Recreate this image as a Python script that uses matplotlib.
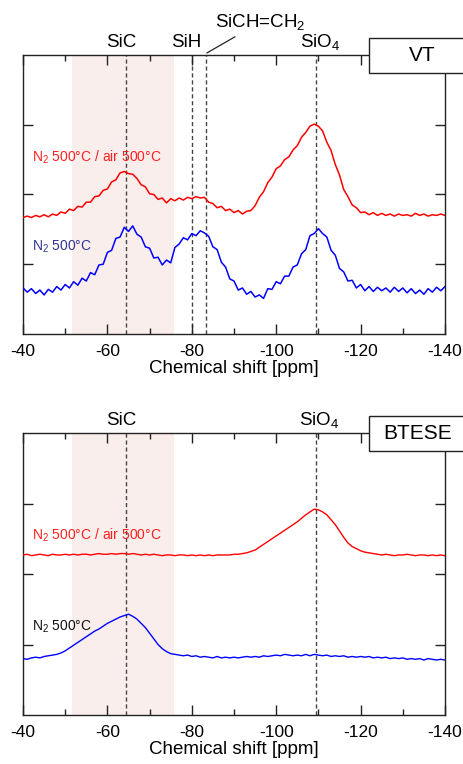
import numpy as np
import matplotlib
matplotlib.use("Agg")
import matplotlib.pyplot as plt
from matplotlib.patches import Rectangle

plt.rcParams['font.family'] = ['Liberation Sans', 'DejaVu Sans']
plt.rcParams['mathtext.fontset'] = 'custom'
plt.rcParams['mathtext.rm'] = 'Liberation Sans'
plt.rcParams['mathtext.it'] = 'Liberation Sans'

# chemical shift grid, -40 ... -140 ppm
shift = np.arange(-40, -141, -1)

vt_air = [1.67, 1.69, 1.67, 1.70, 1.68, 1.71, 1.68, 1.72, 1.70, 1.75,
          1.73, 1.79, 1.77, 1.83, 1.82, 1.89, 1.89, 1.97, 1.98, 2.06,
          2.08, 2.18, 2.21, 2.31, 2.33, 2.30, 2.29, 2.23, 2.14, 2.11,
          2.01, 2.00, 1.93, 1.95, 1.88, 1.94, 1.91, 1.95, 1.92, 1.96,
          1.94, 1.97, 1.95, 1.96, 1.89, 1.87, 1.81, 1.83, 1.77, 1.79,
          1.74, 1.77, 1.72, 1.76, 1.77, 1.84, 1.96, 2.04, 2.17, 2.25,
          2.37, 2.41, 2.50, 2.54, 2.64, 2.70, 2.82, 2.89, 2.98, 3.01,
          2.98, 2.91, 2.75, 2.63, 2.43, 2.28, 2.07, 1.97, 1.85, 1.81,
          1.74, 1.75, 1.71, 1.74, 1.70, 1.73, 1.70, 1.72, 1.69, 1.72,
          1.70, 1.71, 1.69, 1.73, 1.70, 1.72, 1.69, 1.71, 1.70, 1.72,
          1.70]

vt_n2 = [0.66, 0.60, 0.65, 0.58, 0.63, 0.56, 0.64, 0.60, 0.68, 0.63,
         0.71, 0.66, 0.75, 0.70, 0.80, 0.76, 0.88, 0.85, 0.99, 1.00,
         1.17, 1.20, 1.37, 1.39, 1.53, 1.47, 1.55, 1.43, 1.39, 1.25,
         1.23, 1.09, 1.10, 0.99, 1.06, 1.02, 1.24, 1.29, 1.38, 1.35,
         1.44, 1.41, 1.48, 1.45, 1.40, 1.25, 1.21, 1.03, 0.96, 0.79,
         0.76, 0.63, 0.66, 0.57, 0.61, 0.53, 0.56, 0.51, 0.65, 0.64,
         0.75, 0.72, 0.83, 0.83, 0.96, 0.99, 1.15, 1.21, 1.41, 1.44,
         1.51, 1.44, 1.39, 1.20, 1.13, 0.94, 0.89, 0.76, 0.77, 0.66,
         0.71, 0.62, 0.68, 0.61, 0.67, 0.62, 0.66, 0.60, 0.67, 0.61,
         0.66, 0.59, 0.65, 0.58, 0.63, 0.57, 0.65, 0.60, 0.67, 0.62,
         0.68]

btese_air = [2.27, 2.28, 2.26, 2.27, 2.28, 2.27, 2.26, 2.28, 2.27, 2.27,
             2.28, 2.27, 2.28, 2.27, 2.28, 2.28, 2.27, 2.28, 2.29, 2.28,
             2.28, 2.29, 2.28, 2.29, 2.29, 2.28, 2.29, 2.28, 2.27, 2.28,
             2.27, 2.28, 2.27, 2.26, 2.27, 2.27, 2.26, 2.27, 2.27, 2.26,
             2.27, 2.26, 2.27, 2.26, 2.27, 2.26, 2.27, 2.27, 2.27, 2.27,
             2.28, 2.28, 2.29, 2.30, 2.32, 2.34, 2.38, 2.42, 2.46, 2.50,
             2.54, 2.58, 2.62, 2.66, 2.70, 2.74, 2.79, 2.84, 2.88, 2.92,
             2.91, 2.88, 2.84, 2.77, 2.70, 2.61, 2.52, 2.44, 2.39, 2.36,
             2.33, 2.31, 2.30, 2.29, 2.28, 2.27, 2.28, 2.27, 2.26, 2.27,
             2.27, 2.28, 2.27, 2.26, 2.27, 2.27, 2.26, 2.27, 2.26, 2.27,
             2.26]

btese_n2 = [0.80, 0.79, 0.81, 0.82, 0.81, 0.83, 0.84, 0.85, 0.86, 0.88,
            0.91, 0.95, 0.99, 1.03, 1.07, 1.11, 1.15, 1.19, 1.22, 1.26,
            1.30, 1.33, 1.36, 1.39, 1.41, 1.43, 1.40, 1.36, 1.30, 1.24,
            1.16, 1.08, 1.00, 0.94, 0.90, 0.87, 0.86, 0.85, 0.84, 0.85,
            0.83, 0.84, 0.82, 0.83, 0.82, 0.81, 0.83, 0.81, 0.82, 0.81,
            0.82, 0.81, 0.82, 0.83, 0.82, 0.83, 0.82, 0.84, 0.83, 0.84,
            0.85, 0.84, 0.86, 0.85, 0.84, 0.85, 0.84, 0.86, 0.84, 0.86,
            0.85, 0.84, 0.85, 0.83, 0.84, 0.83, 0.84, 0.82, 0.83, 0.82,
            0.83, 0.82, 0.83, 0.81, 0.82, 0.81, 0.82, 0.80, 0.81, 0.80,
            0.81, 0.79, 0.80, 0.79, 0.80, 0.78, 0.80, 0.79, 0.78, 0.79,
            0.78]

sic_band = (-51.5, -75.8)
vt_peaks = {'SiC': -64.5, 'SiH': -80.0, 'SiCH=CH2': -83.4, 'SiO4': -109.4}
btese_peaks = {'SiC': -64.5, 'SiO4': -109.4}

fig = plt.figure(figsize=(4.64, 7.64), dpi=100)
ax1 = fig.add_axes([23/464, 1-334/764, 422/464, 279/764])
ax2 = fig.add_axes([23/464, 1-715/764, 422/464, 282/764])


def style(ax):
    ax.set_xlim(-40, -140)
    ax.set_ylim(0, 4)
    ax.set_xticks(np.arange(-40, -141, -20))
    ax.set_xticks(np.arange(-50, -141, -20), minor=True)
    ax.set_yticks([1, 2, 3])
    ax.set_yticklabels([])
    ax.tick_params(which='both', direction='in', top=True, right=True,
                   color='#222222', width=1)
    ax.tick_params(which='major', length=7, labelsize=12.5, pad=7)
    ax.tick_params(which='minor', length=4)
    ax.set_xticklabels([str(v) for v in np.arange(-40, -141, -20)])
    for s in ax.spines.values():
        s.set_color('#222222')
        s.set_linewidth(1)
    ax.set_xlabel('Chemical shift [ppm]', fontsize=13.5, labelpad=1)
    ax.axvspan(sic_band[0], sic_band[1], color='#f9eeec', lw=0, zorder=0)


style(ax1)
style(ax2)

for x in vt_peaks.values():
    ax1.axvline(x, color='#444444', ls=(0, (3, 2)), lw=1, zorder=1)
for x in btese_peaks.values():
    ax2.axvline(x, color='#444444', ls=(0, (3, 2)), lw=1, zorder=1)

ax1.plot(shift, vt_air, color='#ff0000', lw=1.1, zorder=3)
ax1.plot(shift, vt_n2, color='#0000ff', lw=1.1, zorder=3)
ax2.plot(shift, btese_air, color='#ff0000', lw=1.0, zorder=3)
ax2.plot(shift, btese_n2, color='#0000ff', lw=1.0, zorder=3)

ax1.text(-42.1, 2.54, 'N$_2$ 500°C / air 500°C', color='#ff2020',
         fontsize=10, va='center', zorder=4)
ax1.text(-42.1, 1.25, 'N$_2$ 500°C', color='#333399', fontsize=10,
         va='center', zorder=4)
ax2.text(-42.1, 2.55, 'N$_2$ 500°C / air 500°C', color='#ff2020',
         fontsize=10, va='center', zorder=4)
ax2.text(-42.1, 1.25, 'N$_2$ 500°C', color='#111111', fontsize=10,
         va='center', zorder=4)

lab = dict(fontsize=13.5, va='baseline', ha='left', clip_on=False)
ax1.text(-59.7, 4.12, 'SiC', **lab)
ax1.text(-75.2, 4.12, 'SiH', **lab)
ax1.text(-85.5, 4.40, 'SiCH=CH$_2$', **lab)
ax1.text(-105.6, 4.12, 'SiO$_4$', **lab)
ax1.plot([-83.6, -90.2], [4.03, 4.26], color='#222222', lw=0.9,
         clip_on=False)
ax2.text(-59.7, 4.11, 'SiC', **lab)
ax2.text(-105.5, 4.11, 'SiO$_4$', **lab)

for name, ytop, xc in [('VT', 38, 422), ('BTESE', 416, 418)]:
    fig.patches.append(Rectangle((369/464, 1-(ytop+35)/764), 110/464, 35/764,
                                 transform=fig.transFigure, facecolor='white',
                                 edgecolor='#222222', lw=1, zorder=10))
    fig.text(xc/464, 1-(ytop+17.5)/764, name, fontsize=15, ha='center',
             va='center', zorder=11)

fig.savefig('out.png', dpi=100)
